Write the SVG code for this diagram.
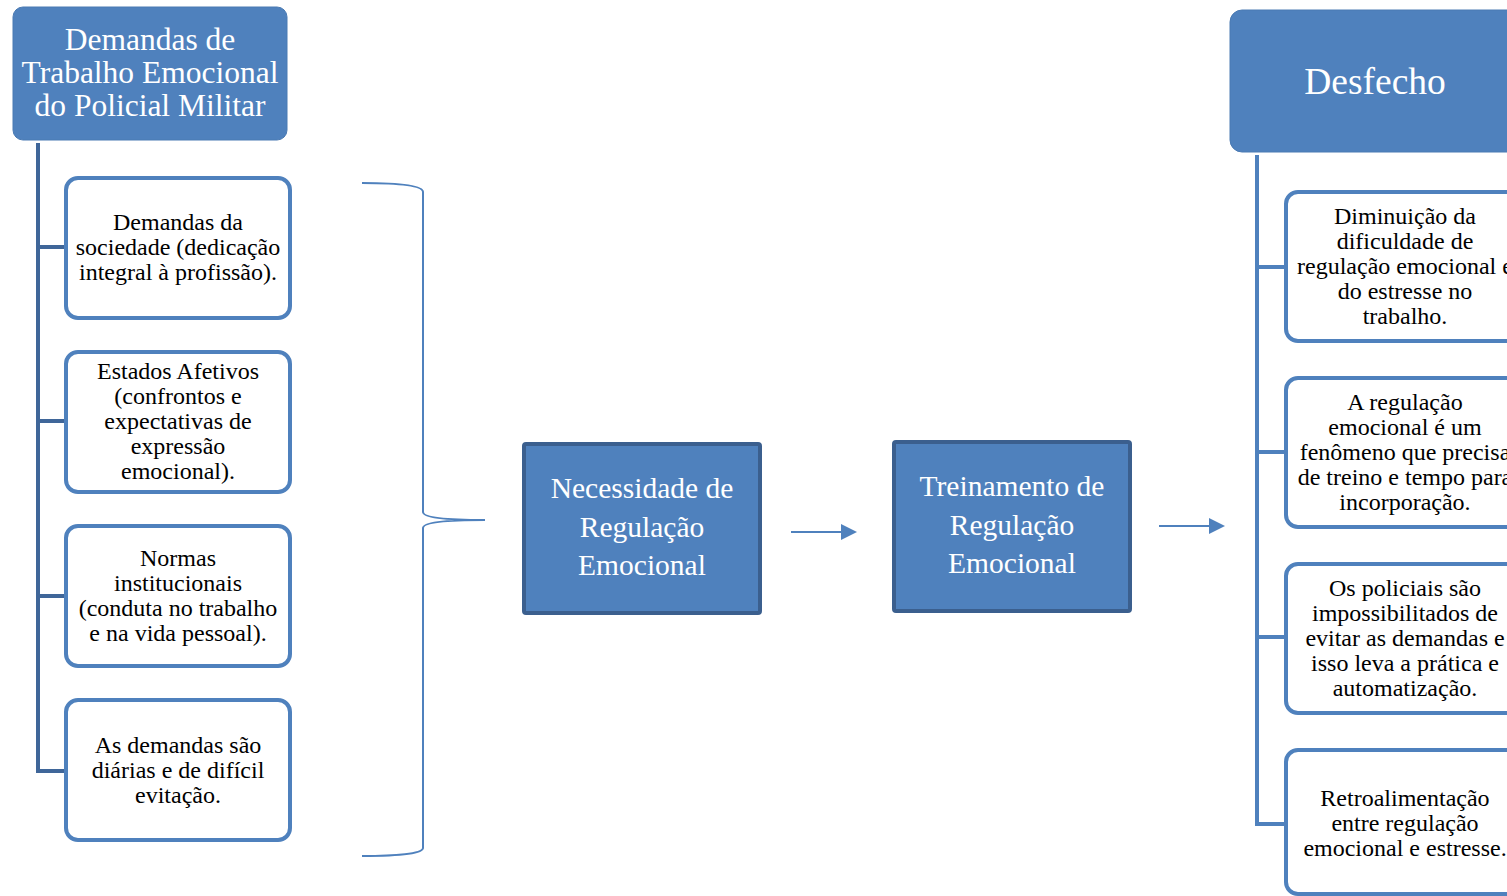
<svg xmlns="http://www.w3.org/2000/svg" width="1507" height="896" viewBox="0 0 1507 896">
<defs>
<style>
.hdr{fill:#4F81BD;stroke:#4A7AB3;stroke-width:1}
.child{fill:#FFFFFF;stroke:#4F81BD;stroke-width:4}
.mid{fill:#4F81BD;stroke:#3B5F8E;stroke-width:4}
.wt{fill:#FFFFFF;font-family:"Liberation Serif",serif;text-anchor:middle}
.bt{fill:#000000;font-family:"Liberation Serif",serif;font-size:24px;text-anchor:middle}
.conn{fill:none;stroke-width:4}
.ar{fill:#4F81BD}
</style>
</defs>
<g id="connectors">
<path class="conn" stroke="#3F6699" d="M38,143 V771 M36,247 H66 M36,421 H66 M36,596 H66 M36,771 H66"/>
<path class="conn" stroke="#4F81BD" d="M1257,155 V824 M1255,267 H1286 M1255,452 H1286 M1255,637 H1286 M1255,824 H1286"/>
<path fill="none" stroke="#4F81BD" stroke-width="2" d="M362,183 C395,183 423,185 423,192 V512 C423,518 450,520 485,520 C450,520 423,522 423,528 V848 C423,854 395,856 362,856"/>
<path fill="none" stroke="#4F81BD" stroke-width="2" d="M791,532 H842"/>
<path class="ar" d="M841,524 L857,532 L841,540 Z"/>
<path fill="none" stroke="#4F81BD" stroke-width="2" d="M1159,526 H1210"/>
<path class="ar" d="M1209,518 L1225,526 L1209,534 Z"/>
</g>
<g id="n-demandas">
<rect class="hdr" x="13" y="7" width="274" height="133" rx="10"/>
<text class="wt" font-size="31.5"><tspan x="150" y="50">Demandas de</tspan><tspan x="150" y="83">Trabalho Emocional</tspan><tspan x="150" y="116">do Policial Militar</tspan></text>
</g>
<g id="n-sociedade">
<rect class="child" x="66" y="178" width="224" height="140" rx="12"/>
<text class="bt"><tspan x="178" y="230">Demandas da</tspan><tspan x="178" y="255">sociedade (dedicação</tspan><tspan x="178" y="280">integral à profissão).</tspan></text>
</g>
<g id="n-afetivos">
<rect class="child" x="66" y="352" width="224" height="140" rx="12"/>
<text class="bt"><tspan x="178" y="379">Estados Afetivos</tspan><tspan x="178" y="404">(confrontos e</tspan><tspan x="178" y="429">expectativas de</tspan><tspan x="178" y="454">expressão</tspan><tspan x="178" y="479">emocional).</tspan></text>
</g>
<g id="n-normas">
<rect class="child" x="66" y="526" width="224" height="140" rx="12"/>
<text class="bt"><tspan x="178" y="566">Normas</tspan><tspan x="178" y="591">institucionais</tspan><tspan x="178" y="616">(conduta no trabalho</tspan><tspan x="178" y="641">e na vida pessoal).</tspan></text>
</g>
<g id="n-diarias">
<rect class="child" x="66" y="700" width="224" height="140" rx="12"/>
<text class="bt"><tspan x="178" y="753">As demandas são</tspan><tspan x="178" y="778">diárias e de difícil</tspan><tspan x="178" y="803">evitação.</tspan></text>
</g>
<g id="n-necessidade">
<rect class="mid" x="524" y="444" width="236" height="169" rx="2"/>
<text class="wt" font-size="29.5"><tspan x="642" y="498">Necessidade de</tspan><tspan x="642" y="537">Regulação</tspan><tspan x="642" y="575">Emocional</tspan></text>
</g>
<g id="n-treinamento">
<rect class="mid" x="894" y="442" width="236" height="169" rx="2"/>
<text class="wt" font-size="29.5"><tspan x="1012" y="496">Treinamento de</tspan><tspan x="1012" y="535">Regulação</tspan><tspan x="1012" y="573">Emocional</tspan></text>
</g>
<g id="n-desfecho">
<rect class="hdr" x="1230" y="10" width="300" height="142" rx="12"/>
<text class="wt" font-size="37.5" x="1375" y="94">Desfecho</text>
</g>
<g id="n-diminuicao">
<rect class="child" x="1286" y="192" width="240" height="149" rx="12"/>
<text class="bt"><tspan x="1405" y="224">Diminuição da</tspan><tspan x="1405" y="249">dificuldade de</tspan><tspan x="1405" y="274">regulação emocional e</tspan><tspan x="1405" y="299">do estresse no</tspan><tspan x="1405" y="324">trabalho.</tspan></text>
</g>
<g id="n-regulacao">
<rect class="child" x="1286" y="378" width="240" height="149" rx="12"/>
<text class="bt"><tspan x="1405" y="410">A regulação</tspan><tspan x="1405" y="435">emocional é um</tspan><tspan x="1405" y="460">fenômeno que precisa</tspan><tspan x="1405" y="485">de treino e tempo para</tspan><tspan x="1405" y="510">incorporação.</tspan></text>
</g>
<g id="n-policiais">
<rect class="child" x="1286" y="564" width="240" height="149" rx="12"/>
<text class="bt"><tspan x="1405" y="596">Os policiais são</tspan><tspan x="1405" y="621">impossibilitados de</tspan><tspan x="1405" y="646">evitar as demandas e</tspan><tspan x="1405" y="671">isso leva a prática e</tspan><tspan x="1405" y="696">automatização.</tspan></text>
</g>
<g id="n-retro">
<rect class="child" x="1286" y="750" width="240" height="144" rx="12"/>
<text class="bt"><tspan x="1405" y="806">Retroalimentação</tspan><tspan x="1405" y="831">entre regulação</tspan><tspan x="1405" y="856">emocional e estresse.</tspan></text>
</g>
</svg>
